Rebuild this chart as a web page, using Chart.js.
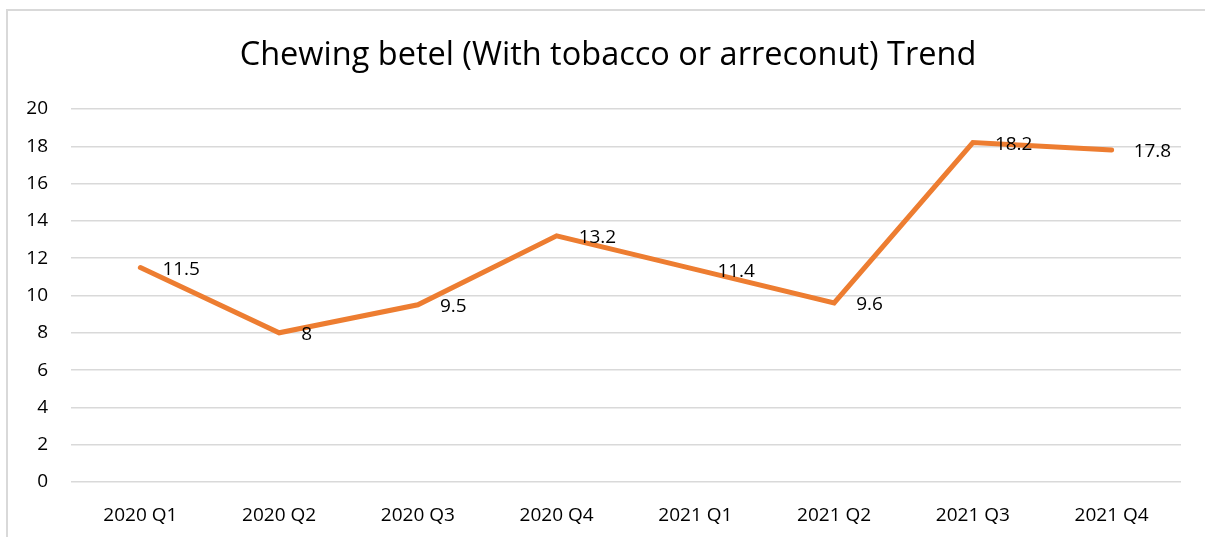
<!DOCTYPE html>
<html>
<head>
<meta charset="utf-8">
<script src="https://cdn.jsdelivr.net/npm/chart.js@4"></script>
<style>
  html, body { margin: 0; padding: 0; background: #fff; overflow: hidden; }
  #frame { position: absolute; left: 6px; top: 9px; width: 1220px; height: 560px; border: 2px solid #d9d9d9; box-sizing: border-box; }
  #wrap { position: absolute; left: 0; top: 0; width: 1205px; height: 537px; }
</style>
</head>
<body>
<div id="frame"></div>
<div id="wrap"><canvas id="trendChart"></canvas></div>
<script>
// chart data
const quarters = ['2020 Q1', '2020 Q2', '2020 Q3', '2020 Q4', '2021 Q1', '2021 Q2', '2021 Q3', '2021 Q4'];
const betelValues = [11.5, 8, 9.5, 13.2, 11.4, 9.6, 18.2, 17.8];
const yTicks = [0, 2, 4, 6, 8, 10, 12, 14, 16, 18, 20];
const chartTitle = 'Chewing betel (With tobacco or arreconut) Trend';

const FONT = "'Open Sans', 'Liberation Sans', sans-serif";

// value labels to the right of each point + title centred on the frame
const valueLabels = {
    id: 'valueLabels',
    afterDatasetsDraw(chart) {
        const ctx = chart.ctx;
        const meta = chart.getDatasetMeta(0);
        ctx.save();
        ctx.font = '19px ' + FONT;
        ctx.fillStyle = '#000';
        ctx.textAlign = 'left';
        ctx.textBaseline = 'middle';
        meta.data.forEach((pt, i) => {
            ctx.fillText(String(betelValues[i]), pt.x + 22, pt.y + 2);
        });
        // title
        const area = chart.chartArea;
        ctx.font = '32.5px ' + FONT;
        ctx.textAlign = 'center';
        ctx.fillText(chartTitle, (area.left - 36 + area.right) / 2, 56);
        ctx.restore();
    }
};

window.onload = () => {
    const ctx = document.getElementById('trendChart');
    new Chart(ctx, {
        type: 'line',
        data: {
            labels: quarters,
            datasets: [{
                label: 'Chewing betel',
                data: betelValues,
                borderColor: '#ED7D31',
                borderWidth: 5,
                borderCapStyle: 'round',
                tension: 0,
                pointRadius: 0,
                fill: false
            }]
        },
        options: {
            responsive: true,
            maintainAspectRatio: false,
            animation: false,
            layout: { padding: { top: 109, right: 24, bottom: 0, left: 0 } },
            plugins: {
                legend: { display: false },
                tooltip: { enabled: false },
                title: { display: false }
            },
            scales: {
                x: {
                    offset: true,
                    afterFit: s => { s.height = 55; },
                    grid: { display: false, drawTicks: false },
                    border: { display: false },
                    ticks: { color: '#000', padding: 22, font: { family: FONT, size: 19 } }
                },
                y: {
                    min: 0,
                    max: 20,
                    afterFit: s => { s.width = 71; },
                    afterBuildTicks: s => { s.ticks = yTicks.map(v => ({ value: v })); },
                    grid: { color: '#d9d9d9', lineWidth: 1.5, drawTicks: false },
                    border: { display: false },
                    ticks: { color: '#000', padding: 23, font: { family: FONT, size: 19 } }
                }
            }
        },
        plugins: [valueLabels]
    });
};
</script>
</body>
</html>
